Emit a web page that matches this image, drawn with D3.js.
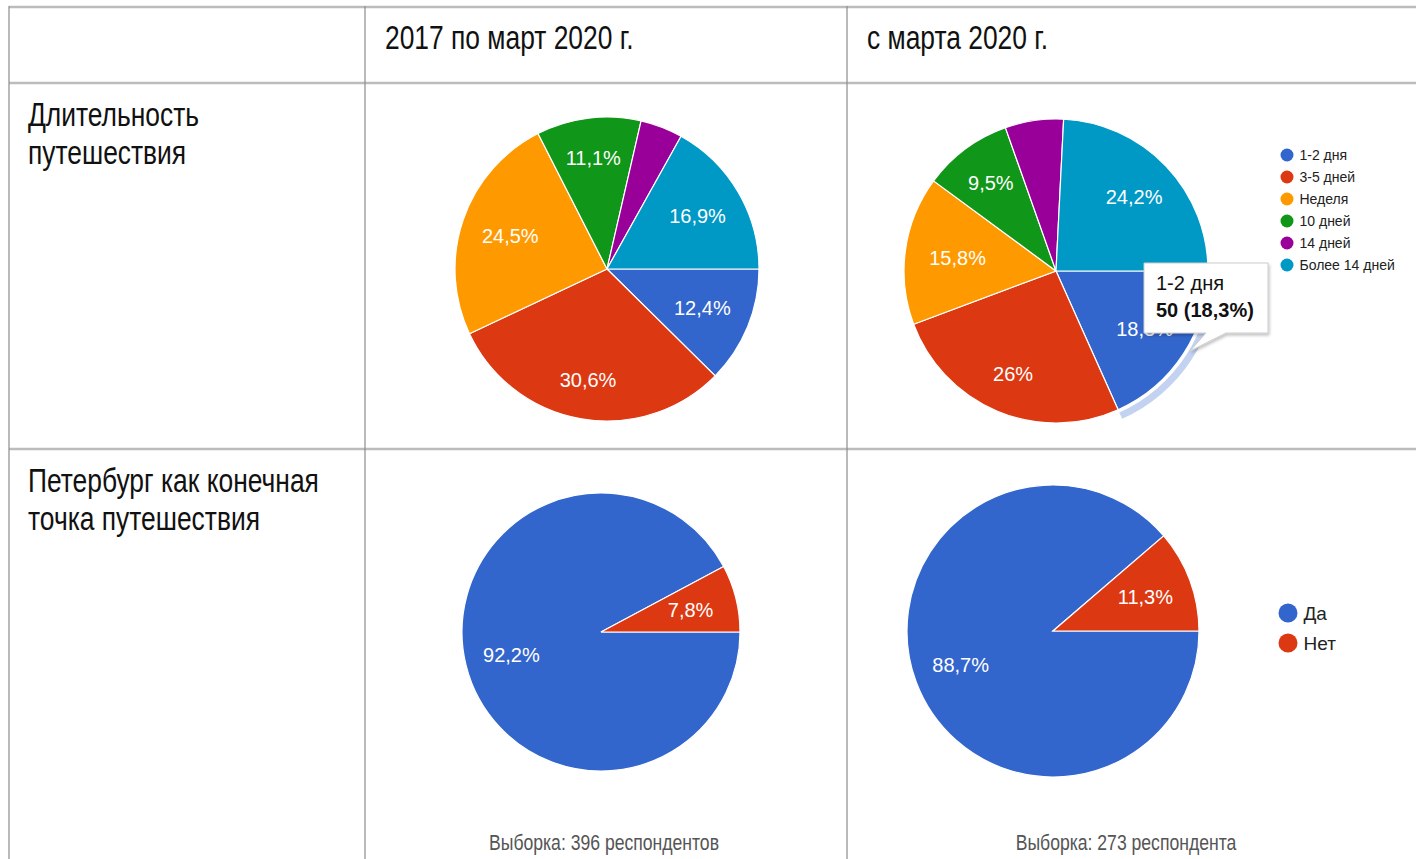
<!DOCTYPE html>
<html>
<head>
<meta charset="utf-8">
<script src="https://cdn.jsdelivr.net/npm/d3@7"></script>
<style>
  body { margin: 0; background: #fff; }
  .arial { font-family: "Liberation Sans", Arial, sans-serif; }
</style>
</head>
<body>
<div id="chart"></div>
<script>
// column / row headers
var colLabels = ["2017 по март 2020 г.", "с марта 2020 г."];
var rowLabels = [["Длительность", "путешествия"], ["Петербург как конечная", "точка путешествия"]];
var sampleLabels = ["Выборка: 396 респондентов", "Выборка: 273 респондента"];

// trip length, % of respondents
var durationCats = ["1-2 дня", "3-5 дней", "Неделя", "10 дней", "14 дней", "Более 14 дней"];
var durationBefore = [12.4, 30.6, 24.5, 11.1, 4.5, 16.9];
var durationAfter = [18.3, 26.0, 15.8, 9.5, 6.2, 24.2];

// Petersburg as final destination, %
var endCats = ["Да", "Нет"];
var endBefore = [92.2, 7.8];
var endAfter = [88.7, 11.3];

// hovered slice tooltip
var tooltipLines = ["1-2 дня", "50 (18,3%)"];

var colors = ["#3366cc", "#dc3912", "#ff9900", "#109618", "#990099", "#0099c6"];

var width = 1416, height = 859;
var narrow = 0.8; // fake "Arial Narrow" by squeezing Liberation Sans

var svg = d3.select("#chart")
  .append("svg")
  .attr("width", width)
  .attr("height", height)
  .style("display", "block");

svg.append("rect").attr("width", width).attr("height", height).attr("fill", "#fff");

// Table grid
var colX = [9, 365, 847];
var rowY = [7, 83, 449];

var grid = svg.append("g");
rowY.forEach(function(y) {
  grid.append("line")
    .attr("x1", 9).attr("x2", width)
    .attr("y1", y).attr("y2", y)
    .attr("stroke", "#bcbcbc")
    .attr("stroke-width", 2.5);
});
colX.forEach(function(x) {
  grid.append("line")
    .attr("x1", x).attr("x2", x)
    .attr("y1", 6).attr("y2", height)
    .attr("stroke", "#8c8c8c")
    .attr("stroke-width", 1.2);
});

function narrowText(x, y, size, fill, anchor) {
  return svg.append("text")
    .attr("class", "arial")
    .attr("transform", "translate(" + x + "," + y + ") scale(" + narrow + ",1)")
    .attr("font-size", size)
    .attr("fill", fill)
    .attr("text-anchor", anchor || "start");
}

// headers
colLabels.forEach(function(d, i) {
  narrowText(colX[i + 1] + 20, 49, 33, "#111").text(d);
});

rowLabels.forEach(function(lines, r) {
  var t = narrowText(28, rowY[r + 1] + 43, 33, "#111");
  lines.forEach(function(l, j) {
    t.append("tspan").attr("x", 0).attr("dy", j === 0 ? 0 : 38).text(l);
  });
});

sampleLabels.forEach(function(d, i) {
  narrowText(i === 0 ? 604 : 1126, 850, 22, "#555", "middle").text(d);
});

var pie = d3.pie()
  .sort(null)
  .startAngle(Math.PI / 2)
  .endAngle(Math.PI / 2 + 2 * Math.PI);

function fmt(v) {
  return String(v).replace(".", ",") + "%";
}

function drawPie(values, cx, cy, r) {
  var g = svg.append("g").attr("transform", "translate(" + cx + "," + cy + ")");
  var arcs = pie(values);
  var arc = d3.arc().innerRadius(0).outerRadius(r);

  g.selectAll("path")
    .data(arcs)
    .enter()
    .append("path")
    .attr("d", arc)
    .attr("fill", function(d, i) { return colors[i]; })
    .attr("stroke", "#fff")
    .attr("stroke-width", 1.2);

  g.selectAll("text")
    .data(arcs.filter(function(d) { return d.value >= 7; }))
    .enter()
    .append("text")
    .attr("class", "arial")
    .attr("transform", function(d) {
      var a = (d.startAngle + d.endAngle) / 2;
      var k = (0.64 + 0.1 * Math.abs(Math.cos(a))) * r;
      return "translate(" + (Math.sin(a) * k) + "," + (-Math.cos(a) * k) + ")";
    })
    .attr("text-anchor", "middle")
    .attr("dy", "0.36em")
    .attr("font-size", 20)
    .attr("fill", "#fff")
    .text(function(d) { return fmt(d.value); });

  return { g: g, arcs: arcs, r: r };
}

function drawLegend(cats, x, y0, step, dotR, fontSize) {
  var lg = svg.append("g");
  var items = lg.selectAll("g")
    .data(cats)
    .enter()
    .append("g")
    .attr("transform", function(d, i) { return "translate(" + x + "," + (y0 + i * step) + ")"; });
  items.append("circle")
    .attr("r", dotR)
    .attr("fill", function(d, i) { return colors[i]; });
  items.append("text")
    .attr("class", "arial")
    .attr("x", dotR + 6)
    .attr("dy", "0.35em")
    .attr("font-size", fontSize)
    .attr("fill", "#222")
    .text(function(d) { return d; });
}

drawPie(durationBefore, 607, 269, 152);
var p2 = drawPie(durationAfter, 1056, 271, 152);
drawPie(endBefore, 601, 632, 139);
drawPie(endAfter, 1053, 631, 146);

// hover halo on first slice of second pie
var sel = p2.arcs[0];
p2.g.insert("path", "text")
  .attr("d", d3.arc().innerRadius(p2.r + 3).outerRadius(p2.r + 10)(sel))
  .attr("fill", "#c3d2f0");

drawLegend(durationCats, 1287, 155, 22, 6.5, 14);
drawLegend(endCats, 1288, 613, 30, 9.5, 19);

// tooltip
var tip = svg.append("g").attr("transform", "translate(1144,263)");
var tw = 124, th = 70;
var defs = svg.append("defs");
var f = defs.append("filter").attr("id", "shadow").attr("x", -0.2).attr("y", -0.2).attr("width", 1.4).attr("height", 1.6);
f.append("feDropShadow").attr("dx", 1).attr("dy", 2).attr("stdDeviation", 1.5).attr("flood-color", "#000").attr("flood-opacity", 0.25);
tip.append("path")
  .attr("d", "M0,0 H" + tw + " V" + th + " H" + 82 + " L" + 46 + "," + 88 + " L" + 62 + "," + th + " H0 Z")
  .attr("fill", "#fff")
  .attr("stroke", "#cccccc")
  .attr("stroke-width", 1)
  .attr("filter", "url(#shadow)");
tip.selectAll("text")
  .data(tooltipLines)
  .enter()
  .append("text")
  .attr("class", "arial")
  .attr("x", 12)
  .attr("y", function(d, i) { return 27 + i * 27; })
  .attr("font-size", 20)
  .attr("font-weight", function(d, i) { return i === 1 ? "bold" : "normal"; })
  .attr("fill", "#111")
  .text(function(d) { return d; });
</script>
</body>
</html>
